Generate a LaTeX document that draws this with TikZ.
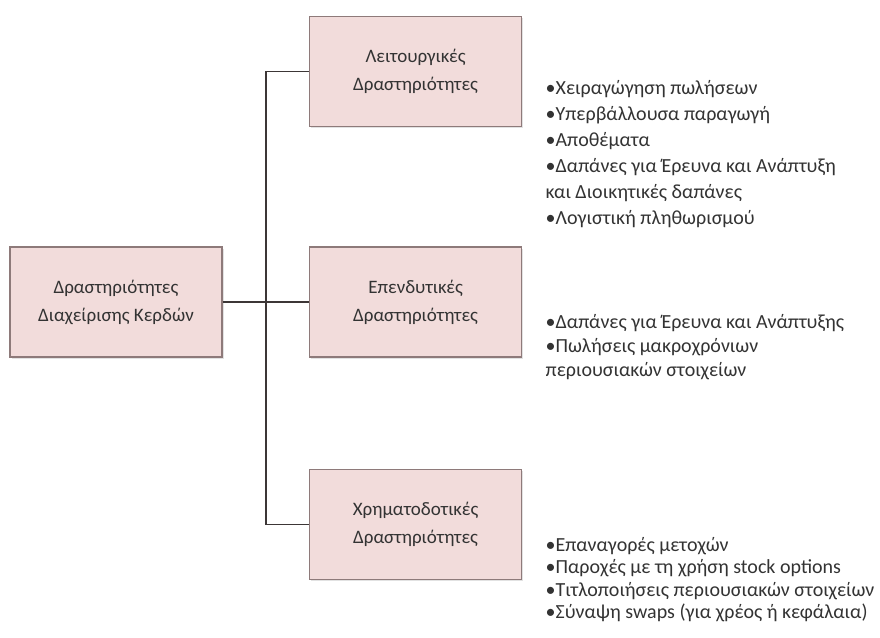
\documentclass[tikz,border=0pt]{standalone}
\usepackage{fontspec}
\setmainfont{Carlito}
\usetikzlibrary{positioning, calc, shadows}

\definecolor{boxfill}{HTML}{F2DCDB}
\definecolor{boxedge}{HTML}{8E7A7A}
\definecolor{linkgray}{HTML}{3C3636}
\definecolor{textgray}{HTML}{333333}

\begin{document}
\begin{tikzpicture}[
            x = 1pt, y = 1pt, % pixel-like units
            node distance = 86pt, % gap between the boxes
            semithick, % line style
            font = \fontsize{19}{28}\selectfont,
            text = textgray
        ]

        \tikzstyle{activity}=[
            draw = boxedge,
            line width = 1.6pt,
            fill = boxfill,
            drop shadow = {shadow xshift=1.5pt, shadow yshift=-1.5pt, fill=gray!45},
            minimum width = 212pt,
            minimum height = 110pt,
            align = center
        ]
        \tikzstyle{items}=[
            anchor = north west,
            inner sep = 0pt,
            align = left
        ]

        \useasboundingbox (0,0) rectangle (880,-637);

        \node[activity] (main) at (116,-302) {Δραστηριότητες\\Διαχείρισης Κερδών};
        \node[activity] (mid) [right=86pt of main] {Επενδυτικές\\Δραστηριότητες};
        \node[activity] (top) [above=119pt of mid] {Λειτουργικές\\Δραστηριότητες};
        \node[activity] (bottom) [below=111pt of mid] {Χρηματοδοτικές\\Δραστηριότητες};

        \coordinate (fork) at ($(main.east)!0.5!(mid.west)$);

        \draw[linkgray, line width=1.5pt] (main.east) -- (mid.west);
        \draw[linkgray, line width=1.5pt] (top.west) -| (fork) |- (bottom.west);

        % lists beside the boxes
        \node[items, font=\fontsize{20}{26}\selectfont] (toplist) at ([xshift=23pt, yshift=-9pt]top.east)
            {•Χειραγώγηση πωλήσεων\\•Υπερβάλλουσα παραγωγή\\•Αποθέματα\\•Δαπάνες για Έρευνα και Ανάπτυξη\\και Διοικητικές δαπάνες\\•Λογιστική πληθωρισμού};
        \node[items, font=\fontsize{20}{24}\selectfont] (midlist) at ([xshift=23pt, yshift=-12.5pt]mid.east)
            {•Δαπάνες για Έρευνα και Ανάπτυξης\\•Πωλήσεις μακροχρόνιων\\περιουσιακών στοιχείων};
        \node[items, font=\fontsize{20}{22.5}\selectfont] (bottomlist) at ([xshift=23pt, yshift=-12.5pt]bottom.east)
            {•Επαναγορές μετοχών\\•Παροχές με τη χρήση stock options\\•Τιτλοποιήσεις περιουσιακών στοιχείων\\•Σύναψη swaps (για χρέος ή κεφάλαια)};

    \end{tikzpicture}
\end{document}
